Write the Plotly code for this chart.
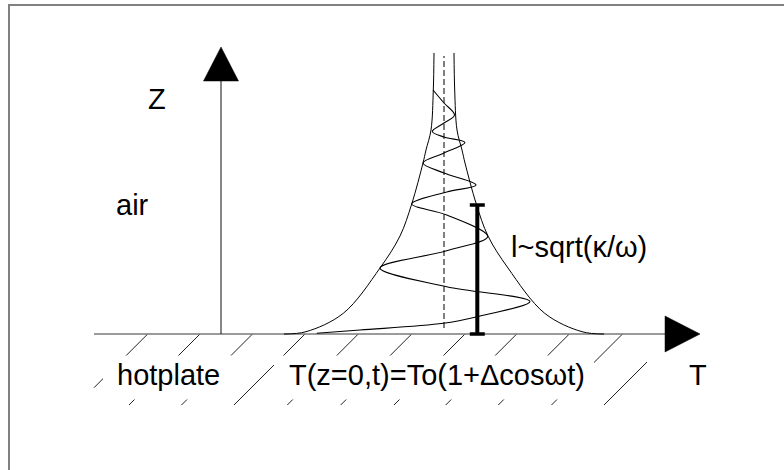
import plotly.graph_objects as go

# ---- data (diagram units: origin at axes crossing, T to the right, z upward) ----
# envelope of the temperature oscillation: height z and half-width about the mean line
env_z = [0, 2.3, 20.7, 66, 98, 130, 171, 184, 204, 244, 281]
env_w = [160, 138, 100.7, 64, 44, 32.3, 21, 18, 13, 10.7, 10]
mean_T = 223                       # dashed mean-temperature line
mean_z = [6, 278]

# damped oscillating profile (top end -> bottom end)
wave_T = [212, 223, 233.5, 223, 211.3, 223, 244, 223, 202, 223, 255, 225.7, 190.7,
          225.7, 266.7, 225.7, 159, 225.7, 309, 256, 222.3, 139, 95.7]
wave_z = [244, 231, 219, 211, 202.5, 197, 191.5, 181, 171, 161, 149, 142, 130,
          119, 97.5, 83.3, 66, 47.3, 32.5, 17.3, 10.7, 4, 0.7]

# penetration-length bar
l_T = 256.3
l_z = [0, 129]

# axes
z_axis_top = 253
z_arrow_tip = 287
T_axis_left = -127
T_axis_end = 444
T_arrow_tip = 479

# hatching under the hotplate surface: top ends of 45-degree strokes
hatch_T = [-73.3, -21, 31.5, 84, 137.3, 190.7, 244, 295.7, 348.3, 401.5, 454]
hatch_depth = 71
hatch_clip = [-127, 426]

labels = ["Z", "air", "hotplate", "T(z=0,t)=To(1+\u0394cos\u03c9t)", "T", "l~sqrt(\u03ba/\u03c9)"]

# ---- figure ----
fig = go.Figure()
BLACK = "#000000"
FONT = dict(family="Liberation Sans, Arial, sans-serif", size=29, color="#000000")

# frame (top and left grey lines)
fig.add_trace(go.Scatter(x=[563, -212, -212], y=[329, 329, -136], mode="lines",
                         line=dict(color="#808080", width=2), hoverinfo="skip"))

# hatching
hx, hy = [], []
for t0 in hatch_T:
    d0 = max(0, t0 - hatch_clip[1])
    d1 = min(hatch_depth, t0 - hatch_clip[0])
    if d1 <= d0:
        continue
    hx += [t0 - d0, t0 - d1, None]
    hy += [-d0, -d1, None]
fig.add_trace(go.Scatter(x=hx, y=hy, mode="lines", line=dict(color="#222222", width=1),
                         hoverinfo="skip"))

# T axis
fig.add_trace(go.Scatter(x=[T_axis_left, T_axis_end], y=[0, 0], mode="lines",
                         line=dict(color="#7a7a7a", width=1.6), hoverinfo="skip"))
fig.add_trace(go.Scatter(x=[T_axis_end, T_arrow_tip, T_axis_end, T_axis_end],
                         y=[18, 0, -18, 18], mode="lines", fill="toself",
                         fillcolor=BLACK, line=dict(color=BLACK, width=0.5), hoverinfo="skip"))
# z axis
fig.add_trace(go.Scatter(x=[0, 0], y=[0, z_axis_top], mode="lines",
                         line=dict(color="#222222", width=1.1), hoverinfo="skip"))
fig.add_trace(go.Scatter(x=[-17.5, 0, 17.5, -17.5],
                         y=[z_axis_top, z_arrow_tip, z_axis_top, z_axis_top], mode="lines",
                         fill="toself", fillcolor=BLACK, line=dict(color=BLACK, width=0.5),
                         hoverinfo="skip"))

# envelope curves
fig.add_trace(go.Scatter(x=[mean_T - w for w in env_w], y=env_z, mode="lines",
                         line=dict(color=BLACK, width=1, shape="spline"), hoverinfo="skip"))
fig.add_trace(go.Scatter(x=[mean_T + w for w in env_w], y=env_z, mode="lines",
                         line=dict(color=BLACK, width=1, shape="spline"), hoverinfo="skip"))
# mean line
fig.add_trace(go.Scatter(x=[mean_T, mean_T], y=mean_z, mode="lines",
                         line=dict(color=BLACK, width=1, dash="6px,3px"), hoverinfo="skip"))
# oscillating profile
fig.add_trace(go.Scatter(x=wave_T, y=wave_z, mode="lines",
                         line=dict(color=BLACK, width=1.1, shape="spline"), hoverinfo="skip"))
# penetration bar with caps
fig.add_trace(go.Scatter(x=[l_T, l_T], y=l_z, mode="lines",
                         line=dict(color=BLACK, width=4), hoverinfo="skip"))
for zc in l_z:
    fig.add_trace(go.Scatter(x=[l_T - 7.5, l_T + 7.5], y=[zc, zc], mode="lines",
                             line=dict(color=BLACK, width=3.5), hoverinfo="skip"))

# white boxes behind the hotplate labels (mask hatching)
for x0, x1 in [(-118, 11), (53, 373)]:
    fig.add_shape(type="rect", x0=x0, x1=x1, y0=-65.5, y1=-21.5, xref="x", yref="y",
                  fillcolor="white", line=dict(width=0), layer="above")

# labels
pos = [(-64.5, 235, "center"), (-89, 129, "center"), (-52.5, -41, "center"),
       (215.7, -41, "center"), (477, -41, "center"), (288, 87, "left")]
for (x, y, xa), txt in zip(pos, labels):
    fig.add_annotation(x=x, y=y, text=txt, showarrow=False, xanchor=xa, yanchor="middle",
                       font=FONT, xref="x", yref="y")

fig.update_layout(
    width=784, height=470, margin=dict(l=0, r=0, t=0, b=0),
    paper_bgcolor="white", plot_bgcolor="white", showlegend=False,
    xaxis=dict(range=[-221, 563], visible=False, fixedrange=True),
    yaxis=dict(range=[-136, 334], visible=False, fixedrange=True),
)
fig.write_html("out.html", config={"displayModeBar": False})
